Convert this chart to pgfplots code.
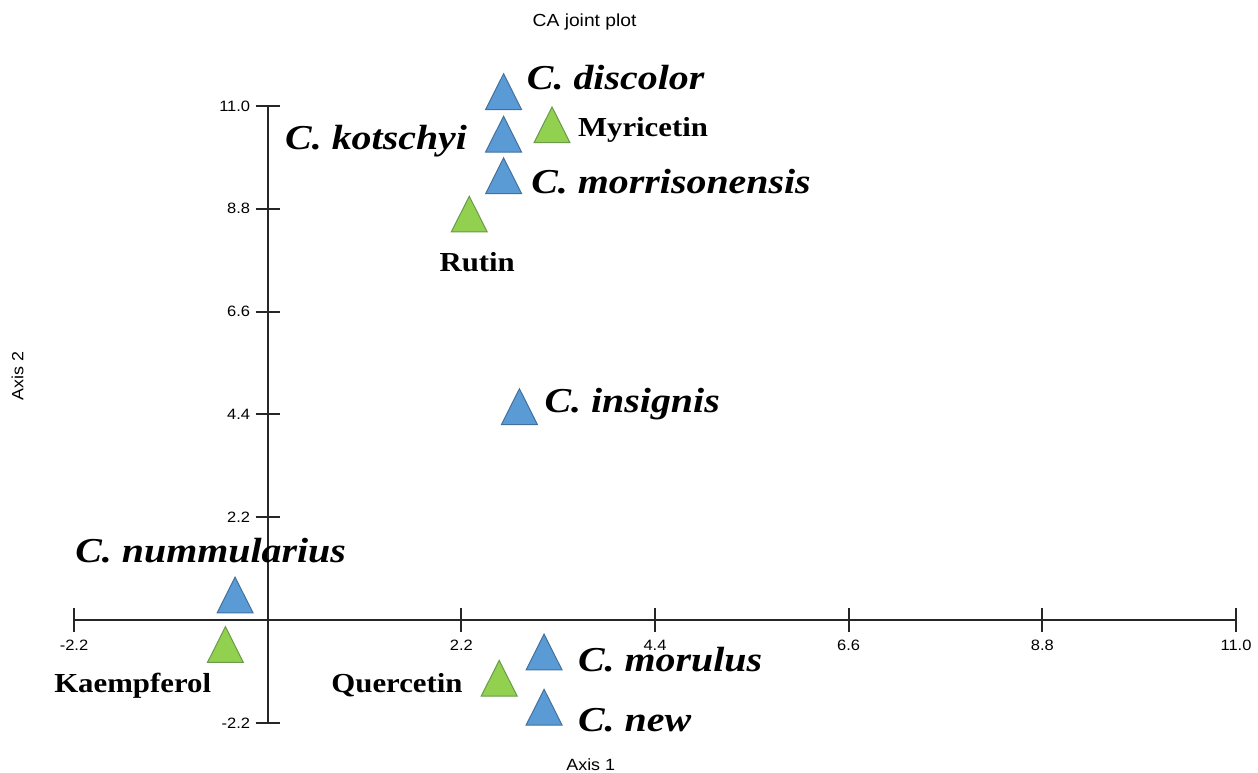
\documentclass[border=0pt]{standalone}
\usepackage{fontspec}
\setmainfont{Liberation Serif}
\newfontfamily\spfont{Liberation Serif}[FakeStretch=1.14]
\newfontfamily\cpfont{Liberation Serif}[FakeStretch=1.12]
\newfontfamily\sansfont{Liberation Sans}[FakeStretch=1.1]
\usepackage{pgfplots}
\pgfplotsset{compat=1.18}
\definecolor{sblue}{HTML}{5B9BD5}
\definecolor{sblueb}{HTML}{41719C}
\definecolor{sgreen}{HTML}{92D050}
\definecolor{sgreenb}{HTML}{6A9A4A}
\begin{document}
\begin{tikzpicture}
\useasboundingbox (-29.6pt,-20pt) rectangle (473.6pt,289.2pt);
\begin{axis}[
  scale only axis, width=464.8pt, height=246.8pt,
  at={(0,0)}, anchor=south west,
  axis lines=middle, axis line style={-, line width=0.8pt, black!85},
  xmin=-2.2, xmax=11.0, ymin=-2.2, ymax=11.0,
  xtick={-2.2,2.2,4.4,6.6,8.8,11.0},
  ytick={-2.2,2.2,4.4,6.6,8.8,11.0},
  minor tick num=0,
  tick align=center, major tick length=9.6pt,
  tick style={line width=0.8pt, black!85},
  /pgf/number format/.cd, fixed, fixed zerofill, precision=1, assume math mode=true,
  /pgfplots/.cd,
  ticklabel style={font=\sansfont\fontsize{6}{7}\selectfont, inner sep=0pt},
  xticklabel style={anchor=north, yshift=-3pt},
  yticklabel style={anchor=east, xshift=-2pt},
  clip=false,
]
\addplot[only marks, mark=triangle*, mark size=8.3pt,
  mark options={yscale=1.15, fill=sblue, draw=sblueb, line width=0.4pt}]
  coordinates {(2.68,11.18) (2.68,10.27) (2.68,9.38) (2.86,4.44) (-0.37,0.41) (3.14,-0.81) (3.14,-1.99)};
\addplot[only marks, mark=triangle*, mark size=8.3pt,
  mark options={yscale=1.15, fill=sgreen, draw=sgreenb, line width=0.4pt}]
  coordinates {(3.23,10.47) (2.29,8.56) (-0.48,-0.65) (2.63,-1.37)};
\tikzset{sp/.style={font=\spfont\bfseries\itshape\fontsize{14}{16}\selectfont, inner sep=0pt},
         cp/.style={font=\cpfont\bfseries\fontsize{11}{13}\selectfont, inner sep=0pt}}
\node[sp, anchor=base west] at (axis cs:2.94,11.35) {C. discolor};
\node[sp, anchor=base east] at (axis cs:2.27,10.06) {C. kotschyi};
\node[sp, anchor=base west] at (axis cs:2.99,9.12) {C. morrisonensis};
\node[sp, anchor=base west] at (axis cs:3.14,4.44) {C. insignis};
\node[sp, anchor=base west] at (axis cs:-2.19,1.24) {C. nummularius};
\node[sp, anchor=base west] at (axis cs:3.52,-1.09) {C. morulus};
\node[sp, anchor=base west] at (axis cs:3.52,-2.39) {C. new};
\node[cp, anchor=base west] at (axis cs:3.52,10.34) {Myricetin};
\node[cp, anchor=base] at (axis cs:2.38,7.46) {Rutin};
\node[cp, anchor=base west] at (axis cs:-2.43,-1.54) {Kaempferol};
\node[cp, anchor=base east] at (axis cs:2.22,-1.54) {Quercetin};
\node[font=\sansfont\fontsize{7}{8}\selectfont] at (axis cs:3.6,12.8) {CA joint plot};
\node[font=\sansfont\fontsize{6.5}{8}\selectfont] at (axis cs:3.67,-3.09) {Axis 1};
\node[font=\sansfont\fontsize{6.5}{8}\selectfont, rotate=90] at (axis cs:-2.84,5.22) {Axis 2};
\end{axis}
\end{tikzpicture}
\end{document}
